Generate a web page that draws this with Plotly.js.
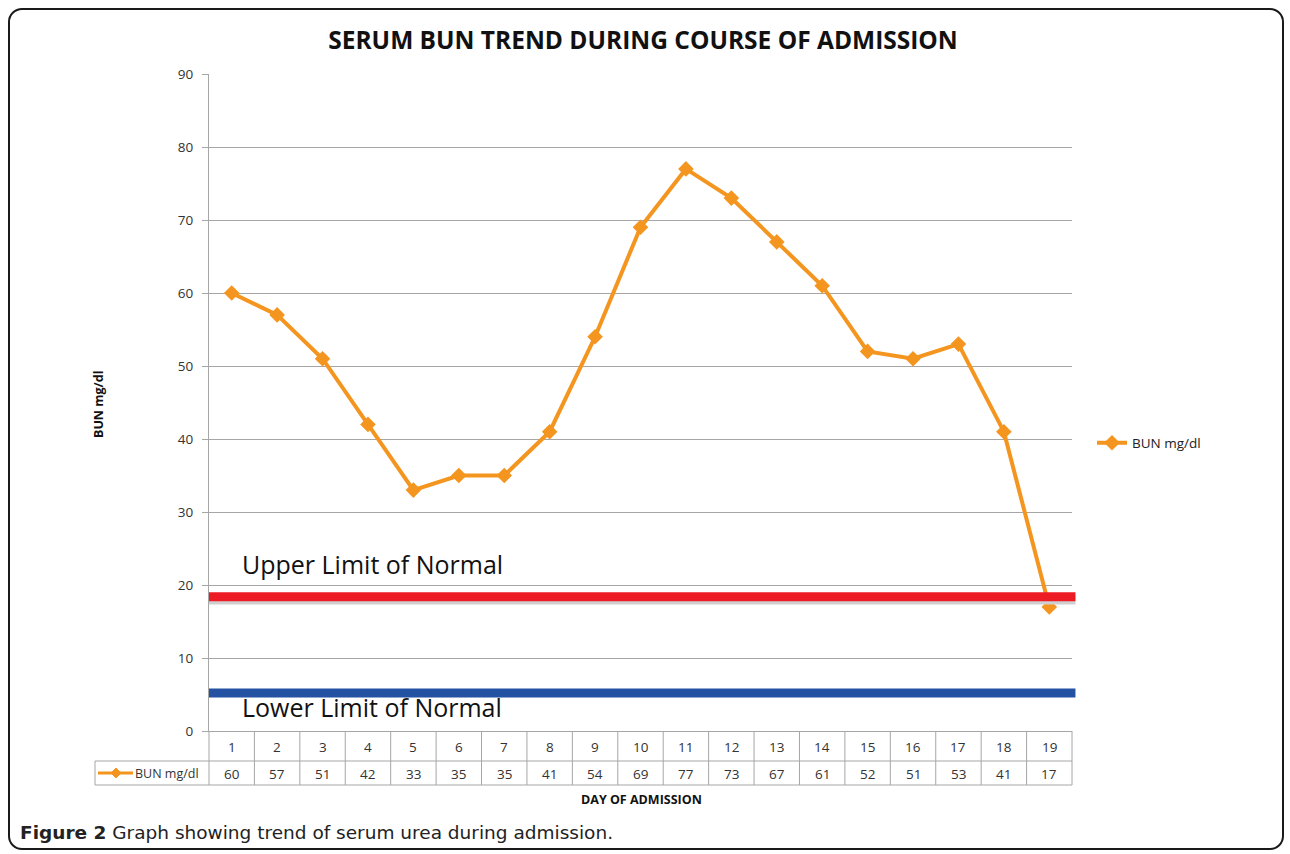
<!DOCTYPE html>
<html>
<head>
<meta charset="utf-8">
<script src="https://cdn.plot.ly/plotly-3.0.1.min.js"></script>
<style>
  html, body { margin: 0; padding: 0; background: #fff; }
  #wrap { position: relative; width: 1290px; height: 854px; }
  #chart { width: 1290px; height: 854px; }
  #frame { position: absolute; left: 8px; top: 8px; width: 1272px; height: 838px;
           border: 2px solid #1a1a1a; border-radius: 14px; pointer-events: none; }
</style>
</head>
<body>
<div id="wrap">
  <div id="chart"></div>
  <div id="frame"></div>
</div>
<script>
// ---- data ----
const days = [1, 2, 3, 4, 5, 6, 7, 8, 9, 10, 11, 12, 13, 14, 15, 16, 17, 18, 19];
const bun = [60, 57, 51, 42, 33, 35, 35, 41, 54, 69, 77, 73, 67, 61, 52, 51, 53, 41, 17];
const seriesName = 'BUN mg/dl';
const upperLimit = 18.4;
const lowerLimit = 5.2;
const chartTitle = 'SERUM BUN TREND DURING COURSE OF ADMISSION';
const xTitle = 'DAY OF ADMISSION';
const yTitle = 'BUN mg/dl';
const upperLabel = 'Upper Limit of Normal';
const lowerLabel = 'Lower Limit of Normal';
const captionBold = 'Figure 2';
const captionText = 'Graph showing trend of serum urea during admission.';

// ---- layout geometry (pixels) ----
const PL = 209, PR = 1072, PT = 74, PB = 731;
const W = PR - PL, H = PB - PT;
const px = x => (x - PL) / W;
const py = y => (PB - y) / H;

const ORANGE = '#F4951F';
const GRID = '#a6a6a6';
const FONT = 'Open Sans, Liberation Sans, sans-serif';

const shapes = [];
const annotations = [];

// limit bands
shapes.push({type: 'line', xref: 'paper', yref: 'y', x0: 0, x1: 1.004, y0: upperLimit - 0.45, y1: upperLimit - 0.45,
  line: {color: '#cfcfcf', width: 9}, layer: 'above'});
shapes.push({type: 'line', xref: 'paper', yref: 'y', x0: 0, x1: 1.004, y0: upperLimit, y1: upperLimit,
  line: {color: '#ED1C24', width: 9}, layer: 'above'});
shapes.push({type: 'line', xref: 'paper', yref: 'y', x0: 0, x1: 1.004, y0: lowerLimit, y1: lowerLimit,
  line: {color: '#2352A3', width: 9}, layer: 'above'});

// data table grid
const rowTop = 731, rowMid = 761, rowBot = 785, legLeft = 95;
const n = days.length;
const tline = {color: GRID, width: 1};
shapes.push({type: 'line', xref: 'paper', yref: 'paper', x0: px(legLeft), x1: 1, y0: py(rowMid), y1: py(rowMid), line: tline});
shapes.push({type: 'line', xref: 'paper', yref: 'paper', x0: px(legLeft), x1: 1, y0: py(rowBot), y1: py(rowBot), line: tline});
shapes.push({type: 'line', xref: 'paper', yref: 'paper', x0: px(legLeft), x1: px(legLeft), y0: py(rowMid), y1: py(rowBot), line: tline});
for (let k = 0; k <= n; k++) {
  shapes.push({type: 'line', xref: 'paper', yref: 'paper', x0: k / n, x1: k / n, y0: py(rowTop), y1: py(rowBot), line: tline});
}
// table cell texts from data
days.forEach((d, i) => {
  annotations.push({xref: 'x', yref: 'paper', x: d, y: py((rowTop + rowMid) / 2 + 1), xanchor: 'center', yanchor: 'middle',
    text: String(d), showarrow: false, font: {family: FONT, size: 13.5, color: '#333'}});
  annotations.push({xref: 'x', yref: 'paper', x: d, y: py((rowMid + rowBot) / 2 + 1), xanchor: 'center', yanchor: 'middle',
    text: String(bun[i]), showarrow: false, font: {family: FONT, size: 13.5, color: '#333'}});
});
// legend key in table
const ky = (rowMid + rowBot) / 2;
shapes.push({type: 'line', xref: 'paper', yref: 'paper', x0: px(98), x1: px(133), y0: py(ky), y1: py(ky), line: {color: ORANGE, width: 3}});
shapes.push({type: 'path', xref: 'paper', yref: 'paper',
  path: `M ${px(116)} ${py(ky - 5)} L ${px(121)} ${py(ky)} L ${px(116)} ${py(ky + 5)} L ${px(111)} ${py(ky)} Z`,
  fillcolor: ORANGE, line: {color: ORANGE, width: 1}});
annotations.push({xref: 'paper', yref: 'paper', x: px(133), y: py(ky), xanchor: 'left', yanchor: 'middle', text: seriesName, showarrow: false,
  font: {family: FONT, size: 12.5, color: '#333'}});

// labels
annotations.push({xref: 'paper', yref: 'paper', x: px(240), y: py(564), xanchor: 'left', yanchor: 'middle', text: upperLabel,
  showarrow: false, font: {family: FONT, size: 25, color: '#111'}});
annotations.push({xref: 'paper', yref: 'paper', x: px(240), y: py(707), xanchor: 'left', yanchor: 'middle', text: lowerLabel,
  showarrow: false, font: {family: FONT, size: 25, color: '#111'}});
annotations.push({xref: 'paper', yref: 'paper', x: px(641), y: py(799), xanchor: 'center', yanchor: 'middle', text: '<b>' + xTitle + '</b>', showarrow: false,
  font: {family: FONT, size: 12.5, color: '#111'}});
annotations.push({xref: 'paper', yref: 'paper', x: px(98), y: py(405), xanchor: 'center', yanchor: 'middle', text: '<b>' + yTitle + '</b>', textangle: -90, showarrow: false,
  font: {family: FONT, size: 12.5, color: '#111'}});
annotations.push({xref: 'paper', yref: 'paper', x: px(18), y: py(832), xanchor: 'left', yanchor: 'middle',
  text: '<b>' + captionBold + '</b> ' + captionText, showarrow: false,
  font: {family: 'DejaVu Sans, sans-serif', size: 18.5, color: '#222'}});

const traces = [{
  type: 'scatter', mode: 'lines+markers', name: seriesName,
  x: days, y: bun,
  line: {color: ORANGE, width: 4},
  marker: {symbol: 'diamond', size: 12, color: ORANGE},
  cliponaxis: false
}];

const layout = {
  width: 1290, height: 854,
  margin: {l: PL, r: 1290 - PR, t: PT, b: 854 - PB, pad: 0},
  paper_bgcolor: '#fff', plot_bgcolor: '#fff',
  title: {text: '<b>' + chartTitle + '</b>', x: 643 / 1290, xanchor: 'center', y: 1 - 40 / 854, yanchor: 'middle',
    font: {family: FONT, size: 24.5, color: '#111'}},
  xaxis: {range: [0.5, 19.5], showticklabels: false, ticks: '', showgrid: false, zeroline: false,
    showline: true, linecolor: GRID, linewidth: 1, fixedrange: true},
  yaxis: {range: [0, 90], dtick: 10, tick0: 0, showgrid: true, gridcolor: GRID, gridwidth: 1, zeroline: false,
    showline: true, linecolor: GRID, linewidth: 1, ticks: 'outside', ticklen: 6, tickcolor: GRID,
    ticklabelstandoff: 6,
    tickfont: {family: FONT, size: 13.5, color: '#333'}, fixedrange: true},
  showlegend: true,
  legend: {x: px(1092), y: py(443), xanchor: 'left', yanchor: 'middle', bgcolor: 'rgba(0,0,0,0)',
    font: {family: FONT, size: 13.5, color: '#222'}},
  shapes: shapes,
  annotations: annotations
};

Plotly.newPlot('chart', traces, layout, {displayModeBar: false, staticPlot: true});
</script>
</body>
</html>
